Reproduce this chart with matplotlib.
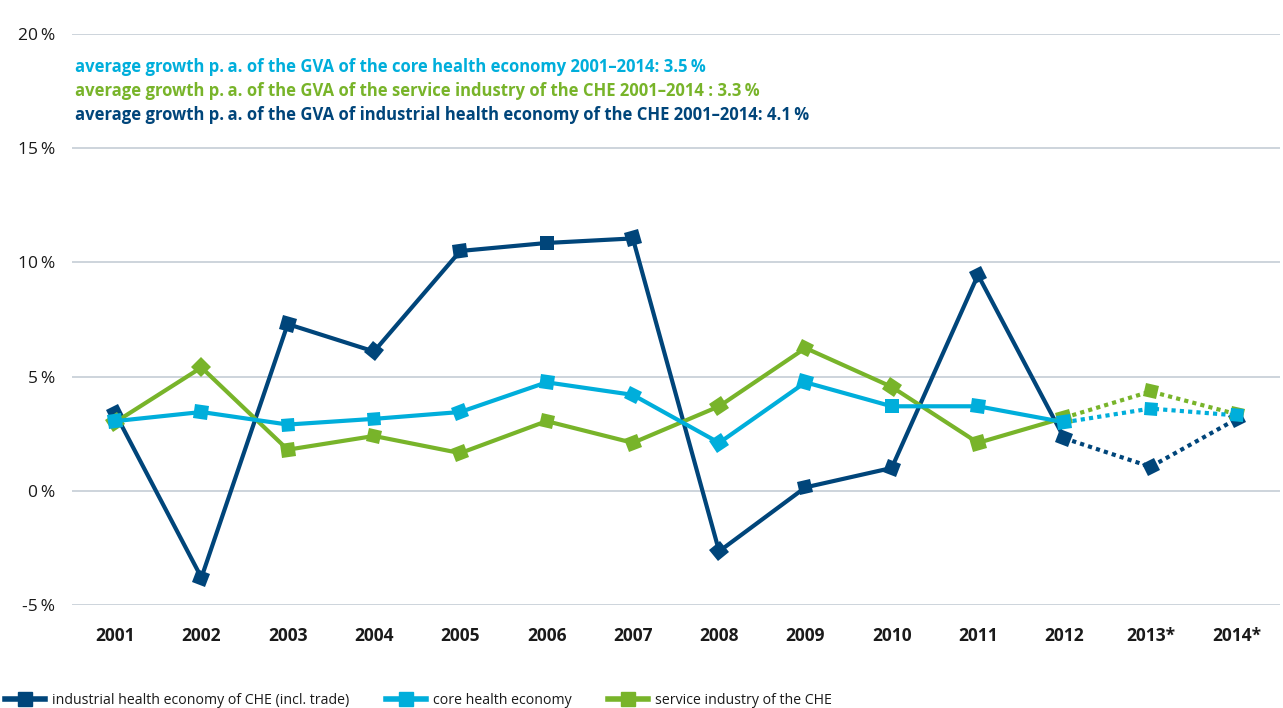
import matplotlib
matplotlib.use("Agg")
import matplotlib.pyplot as plt
import numpy as np
from matplotlib.markers import MarkerStyle
from matplotlib.transforms import Affine2D
from matplotlib.lines import Line2D

years = ["2001", "2002", "2003", "2004", "2005", "2006", "2007",
         "2008", "2009", "2010", "2011", "2012", "2013*", "2014*"]

industrial = [3.4, -3.8, 7.3, 6.1, 10.5, 10.85, 11.05, -2.65, 0.15, 1.0, 9.45, 2.3, 1.05, 3.15]
core = [3.05, 3.45, 2.9, 3.15, 3.45, 4.75, 4.2, 2.1, 4.75, 3.7, 3.7, 3.0, 3.6, 3.3]
service = [3.0, 5.4, 1.8, 2.4, 1.65, 3.05, 2.1, 3.7, 6.25, 4.55, 2.1, 3.2, 4.35, 3.35]

series_names = ["industrial health economy of CHE (incl. trade)",
                "core health economy",
                "service industry of the CHE"]

notes = ["average growth p.\u2009a. of the GVA of the core health economy 2001\u20132014: 3.5\u2009%",
         "average growth p.\u2009a. of the GVA of the service industry of the CHE 2001\u20132014 : 3.3\u2009%",
         "average growth p.\u2009a. of the GVA of industrial health economy of the CHE 2001\u20132014: 4.1\u2009%"]

yticks = [-5, 0, 5, 10, 15, 20]

NAVY = "#00457a"
CYAN = "#00aedb"
GREEN = "#78b42a"
GRID = "#c5cdd6"
TEXT = "#1a1a1a"

plt.rcParams["font.family"] = ["Open Sans", "DejaVu Sans"]

fig = plt.figure(figsize=(12.83, 7.08), dpi=100)
ax = fig.add_axes([72 / 1283, 1 - 605 / 708, (1280 - 72) / 1283, (605 - 34) / 708])
x = np.arange(len(years))
ax.set_xlim(-0.5, len(years) - 0.5)
ax.set_ylim(-5, 20)
for s in ax.spines.values():
    s.set_visible(False)
ax.set_yticks(yticks)
ax.set_yticklabels([f"{v}\u2009%" for v in yticks], fontsize=12.5, color=TEXT)
ax.tick_params(axis="y", length=0, pad=12)
ax.set_xticks(x)
ax.set_xticklabels(years, fontsize=12.5, fontweight="bold", color=TEXT)
ax.tick_params(axis="x", length=0, pad=16)
ax.yaxis.grid(True, color=GRID, linewidth=1.2)
ax.set_axisbelow(True)

fig.canvas.draw()


def draw_series(vals, color, z):
    vals = np.asarray(vals, dtype=float)
    ax.plot(x[:12], vals[:12], color=color, lw=3.0, zorder=z, solid_capstyle="butt")
    ax.plot(x[11:], vals[11:], color=color, lw=3.0, zorder=z, linestyle=(0, (1.0, 1.0)))
    pts = ax.transData.transform(np.column_stack([x, vals]))
    n = len(vals)
    for i in range(n):
        # each square is turned to follow the segment leaving the point
        j0, j1 = (i, i + 1) if i < n - 1 else (i - 1, i)
        d = pts[j1] - pts[j0]
        a = np.degrees(np.arctan2(d[1], d[0]))
        m = MarkerStyle("s", transform=Affine2D().rotate_deg(a))
        ax.plot([x[i]], [vals[i]], marker=m, markersize=10, color=color,
                markeredgewidth=0, linestyle="none", zorder=z + 0.5)


draw_series(industrial, NAVY, 3)
draw_series(service, GREEN, 4)
draw_series(core, CYAN, 5)

for i, (txt, col) in enumerate(zip(notes, [CYAN, GREEN, NAVY])):
    fig.text(75 / 1283, 1 - (67 + i * 24) / 708, txt, color=col, fontsize=12,
             fontweight="bold", va="center", ha="left")

handles = [Line2D([0], [0], color=c, lw=4, marker="s", markersize=10)
           for c in [NAVY, CYAN, GREEN]]
fig.legend(handles, series_names, loc="center left",
           bbox_to_anchor=(5 / 1283, 1 - 700 / 708),
           ncol=3, frameon=False, fontsize=10.2, handlelength=2.8,
           columnspacing=2.6, handletextpad=0.5, labelcolor=TEXT,
           borderpad=0, borderaxespad=0)

fig.savefig("out.png", dpi=100)
